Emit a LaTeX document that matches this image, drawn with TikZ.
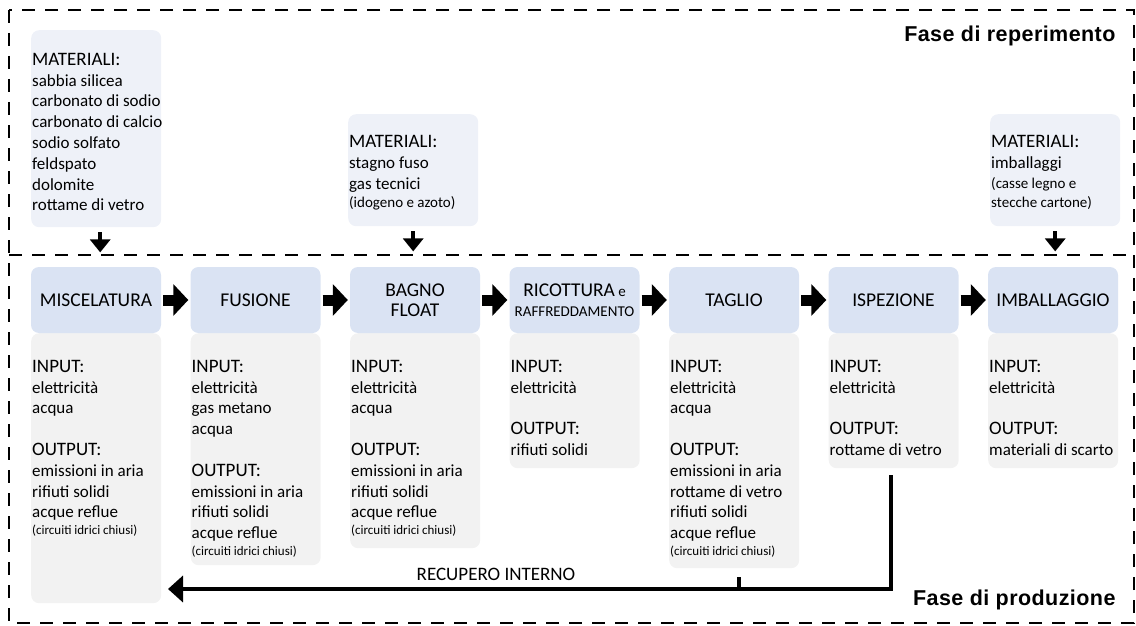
\documentclass[tikz,border=0pt]{standalone}
\usepackage{fontspec}
\setmainfont{Carlito}
\newfontfamily\phasefont[LetterSpace=2.0]{Liberation Sans}
\usetikzlibrary{arrows.meta}

\definecolor{headblue}{HTML}{DAE3F3}
\definecolor{matblue}{HTML}{EEF1F8}
\definecolor{panelgray}{HTML}{F2F2F2}

% larger heading lines inside the lists, and the small footnote lines
\newcommand\lbl[1]{{\fontsize{19}{20.8}\selectfont #1}}
\newcommand\smallnote[1]{{\fontsize{13}{15}\selectfont #1}}
\newcommand\midnote[1]{{\fontsize{15}{18}\selectfont #1}}

\begin{document}
\begin{tikzpicture}[x=1pt,y=-1pt,
  stephead/.style={fill=headblue, rounded corners=8pt, minimum width=130pt,
    minimum height=66pt, inner sep=0pt, align=center,
    font=\fontsize{19.5}{19.5}\selectfont},
  panel/.style={fill=panelgray, rounded corners=8pt, minimum width=130pt,
    inner sep=0pt, anchor=north west},
  matbox/.style={fill=matblue, rounded corners=8pt, minimum width=130pt,
    inner sep=0pt, anchor=north west},
  listtext/.style={anchor=north west, inner sep=0pt, align=left,
    font=\fontsize{17}{20.8}\selectfont},
  flow/.style={line width=11pt, -{Triangle[length=15pt,width=31pt]}},
  feed/.style={line width=3.5pt, -{Triangle[length=13pt,width=20pt]}},
  back/.style={line width=4pt},
  frame/.style={line width=1.6pt, dash pattern=on 13pt off 10pt},
  phase/.style={anchor=base east, font=\phasefont\bfseries\fontsize{21.5}{21.5}\selectfont}
]
\useasboundingbox (0,0) rectangle (1136,626);

% dashed frame and the line between the two phases
\draw[frame] (9,10) rectangle (1134,623);
\draw[frame] (9,255) -- (1134,255);

\node[phase] (ph1) at (1119,41.5) {Fase di reperimento};
\node[phase] (ph2) at (1119,605) {Fase di produzione};

% raw materials
\node[matbox, minimum height=197pt] (m1) at (31,30) {};
\node[listtext] (mt1) at (32,53) {\lbl{MATERIALI:}\\sabbia silicea\\carbonato di sodio\\carbonato di calcio\\sodio solfato\\feldspato\\dolomite\\rottame di vetro};
\node[matbox, minimum height=112pt] (m2) at (348,114) {};
\node[listtext] (mt2) at (349,135.5) {\lbl{MATERIALI:}\\stagno fuso\\gas tecnici\\[-2.8pt]\midnote{(idogeno e azoto)}};
\node[matbox, minimum height=112pt] (m3) at (990,114) {};
\node[listtext] (mt3) at (991,135.5) {\lbl{MATERIALI:}\\imballaggi\\[-0.8pt]\midnote{(casse legno e}\\[-2pt]\midnote{stecche cartone)}};

\draw[feed] ([xshift=4pt,yshift=-5pt]m1.south) -- ([xshift=4pt,yshift=-25pt]m1.south);
\draw[feed] ([yshift=-5pt]m2.south) -- ([yshift=-25pt]m2.south);
\draw[feed] ([yshift=-5pt]m3.south) -- ([yshift=-25pt]m3.south);

% input/output panels
\node[panel, minimum height=270pt] (p1) at (31,333) {};
\node[panel, minimum height=232pt] (p2) at (190.5,333) {};
\node[panel, minimum height=215pt] (p3) at (350,333) {};
\node[panel, minimum height=135pt] (p4) at (509.5,333) {};
\node[panel, minimum height=235pt] (p5) at (669,333) {};
\node[panel, minimum height=135pt] (p6) at (828.5,333) {};
\node[panel, minimum height=135pt] (p7) at (988,333) {};

\node[listtext] (t1) at (32,360) {\lbl{INPUT:}\\elettricità\\acqua\\[20.8pt]\lbl{OUTPUT:}\\emissioni in aria\\rifiuti solidi\\acque reflue\\[-4pt]\smallnote{(circuiti idrici chiusi)}};
\node[listtext] (t2) at (191.5,360) {\lbl{INPUT:}\\elettricità\\gas metano\\acqua\\[20.8pt]\lbl{OUTPUT:}\\emissioni in aria\\rifiuti solidi\\acque reflue\\[-4pt]\smallnote{(circuiti idrici chiusi)}};
\node[listtext] (t3) at (351,360) {\lbl{INPUT:}\\elettricità\\acqua\\[20.8pt]\lbl{OUTPUT:}\\emissioni in aria\\rifiuti solidi\\acque reflue\\[-4pt]\smallnote{(circuiti idrici chiusi)}};
\node[listtext] (t4) at (510.5,360) {\lbl{INPUT:}\\elettricità\\[20.8pt]\lbl{OUTPUT:}\\rifiuti solidi};
\node[listtext] (t5) at (670,360) {\lbl{INPUT:}\\elettricità\\acqua\\[20.8pt]\lbl{OUTPUT:}\\emissioni in aria\\rottame di vetro\\rifiuti solidi\\acque reflue\\[-4pt]\smallnote{(circuiti idrici chiusi)}};
\node[listtext] (t6) at (829.5,360) {\lbl{INPUT:}\\elettricità\\[20.8pt]\lbl{OUTPUT:}\\rottame di vetro};
\node[listtext] (t7) at (989,360) {\lbl{INPUT:}\\elettricità\\[20.8pt]\lbl{OUTPUT:}\\materiali di scarto};

% process steps
\node[stephead] (h1) at (96,300) {MISCELATURA};
\node[stephead] (h2) at (255.5,300) {FUSIONE};
\node[stephead] (h3) at (415,300) {BAGNO\\FLOAT};
\node[stephead] (h4) at (574.5,300) {RICOTTURA\,{\fontsize{15}{15}\selectfont e}\\{\fontsize{15}{15}\selectfont RAFFREDDAMENTO}};
\node[stephead] (h5) at (734,300) {TAGLIO};
\node[stephead] (h6) at (893.5,300) {ISPEZIONE};
\node[stephead] (h7) at (1053,300) {IMBALLAGGIO};

\foreach \a/\b in {h1/h2,h2/h3,h3/h4,h4/h5,h5/h6,h6/h7}
  \draw[flow] ([xshift=2pt]\a.east) -- ([xshift=-2pt]\b.west);

% internal recovery loop
\coordinate (ret) at (168,589);
\draw[back, -{Triangle[length=15pt,width=26pt]}] ([xshift=-3pt,yshift=-7pt]p6.south) |- (ret);
\draw[back] ([xshift=5pt,yshift=-9pt]p5.south) -- ([xshift=5pt]p5.south |- ret);
\node[anchor=base, font=\fontsize{19}{19}\selectfont] (rec) at (496,580) {RECUPERO INTERNO};
\end{tikzpicture}
\end{document}
